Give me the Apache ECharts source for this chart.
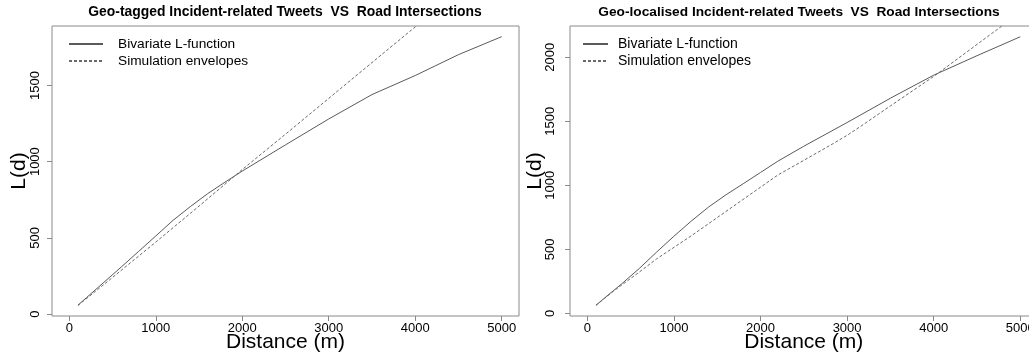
<!DOCTYPE html>
<html><head><meta charset="utf-8">
<script src="https://cdn.jsdelivr.net/npm/echarts@6/dist/echarts.min.js"></script>
<style>html,body{margin:0;padding:0;background:#fff}#c{width:1029px;height:356px}</style>
</head><body><div id="c"></div>
<script>
// ---- data ----
const titles = ['Geo-tagged Incident-related Tweets  VS  Road Intersections',
                'Geo-localised Incident-related Tweets  VS  Road Intersections'];
const seriesNames = ['Bivariate L-function', 'Simulation envelopes'];
const xTicks = [0, 1000, 2000, 3000, 4000, 5000];
const yTicksLeft = [0, 500, 1000, 1500];
const yTicksRight = [0, 500, 1000, 1500, 2000];

const leftLX = [100,200,400,600,800,1000,1200,1400,1600,1800,2000,2500,3000,3500,4000,4500,5000];
const leftLY = [58,108,208,308,410,512,615,705,790,865,938,1110,1280,1440,1565,1702,1820];
const leftEX = [100,500,1000,1500,2000,2500,3000,3500,4000,4500,5000];
const leftEY = [56,240,472,708,948,1180,1415,1650,1884,2120,2355];

const rightLX = [100,200,400,600,800,1000,1200,1400,1600,1800,2000,2200,2500,3000,3500,4000,4500,5000];
const rightLY = [63,120,232,350,478,602,720,830,925,1012,1100,1188,1305,1490,1680,1860,2012,2160];
const rightEX = [100,300,600,800,1000,1200,1400,1600,1800,2000,2200,2500,2800,3000,3200,3500,4000,4500,5000];
const rightEY = [62,172,322,425,515,605,700,795,890,985,1080,1195,1310,1390,1480,1620,1850,2100,2350];

const pairs = (xs, ys) => xs.map((x, i) => [x, ys[i]]);
const FONT = '"Liberation Sans", Arial, sans-serif';
const LINE_SOLID = '#5a5a5a';
const LINE_DASH = '#6a6a6a';
const BOX = '#8a8a8a';
const plain = v => String(v);

function xAx(gi) {
  return {
    gridIndex: gi, type: 'value', min: -200, max: 5200,
    axisLine: { show: false, onZero: false },
    axisTick: { show: true, length: 5, customValues: xTicks, lineStyle: { color: BOX } },
    axisLabel: { customValues: xTicks, formatter: plain, fontSize: 13, color: '#000', margin: 6, fontFamily: FONT },
    splitLine: { show: false },
    name: 'Distance (m)', nameLocation: 'middle', nameGap: 16, nameMoveOverlap: false,
    nameTextStyle: { fontSize: 21, color: '#000', fontFamily: FONT }
  };
}
function yAx(gi, min, max, ticks, labMargin, nameGap) {
  return {
    gridIndex: gi, type: 'value', min: min, max: max,
    axisLine: { show: false, onZero: false },
    axisTick: { show: true, length: 5, customValues: ticks, lineStyle: { color: BOX } },
    axisLabel: { customValues: ticks, formatter: plain, fontSize: 13, color: '#000', rotate: 90, margin: labMargin, fontFamily: FONT },
    splitLine: { show: false },
    name: 'L(d)', nameLocation: 'middle', nameGap: nameGap, nameMoveOverlap: false,
    nameTextStyle: { fontSize: 21, color: '#000', fontFamily: FONT }
  };
}
function legendAt(left, iconW, textPad, fs) {
  return {
    left: left, top: 37, orient: 'vertical', padding: 0,
    itemWidth: iconW, itemHeight: 14, itemGap: 3, selectedMode: false,
    data: seriesNames,
    itemStyle: { color: 'transparent', borderWidth: 0, opacity: 0 },
    textStyle: { fontSize: fs, color: '#000', fontFamily: FONT, padding: [0, 0, 0, textPad] }
  };
}
function line(name, data, gi, dashed) {
  return {
    type: 'line', name: name, data: data, xAxisIndex: gi, yAxisIndex: gi,
    symbol: 'none', smooth: false, clip: true, silent: true,
    lineStyle: { color: dashed ? LINE_DASH : LINE_SOLID, width: 1, type: dashed ? [3, 2] : 'solid' },
    itemStyle: { color: dashed ? LINE_DASH : LINE_SOLID }
  };
}

const chart = echarts.init(document.getElementById('c'), null, { renderer: 'canvas' });
chart.setOption({
  animation: false,
  backgroundColor: '#fff',
  textStyle: { fontFamily: FONT },
  title: [
    { text: titles[0], left: 285, top: 5, padding: 0, textAlign: 'center', textStyle: { fontSize: 13.9, fontWeight: 'bold', color: '#000', fontFamily: FONT } },
    { text: titles[1], left: 799, top: 5, padding: 0, textAlign: 'center', textStyle: { fontSize: 13.7, fontWeight: 'bold', color: '#000', fontFamily: FONT } }
  ],
  legend: [legendAt(68, 34, 10, 13.7), legendAt(582, 25, 5, 14)],
  grid: [
    { left: 52, top: 26, width: 467, height: 290, show: true, borderColor: BOX, borderWidth: 1, backgroundColor: 'transparent', outerBoundsMode: 'none', containLabel: false },
    { left: 570, top: 26, width: 467.6, height: 290, show: true, borderColor: BOX, borderWidth: 1, backgroundColor: 'transparent', outerBoundsMode: 'none', containLabel: false }
  ],
  xAxis: [xAx(0), xAx(1)],
  yAxis: [yAx(0, -13, 1890, yTicksLeft, 10, 22.5), yAx(1, -21, 2244, yTicksRight, 13, 24)],
  series: [
    line(seriesNames[0], pairs(leftLX, leftLY), 0, false),
    line(seriesNames[1], pairs(leftEX, leftEY), 0, true),
    line(seriesNames[0], pairs(rightLX, rightLY), 1, false),
    line(seriesNames[1], pairs(rightEX, rightEY), 1, true)
  ]
});
</script>
</body></html>
